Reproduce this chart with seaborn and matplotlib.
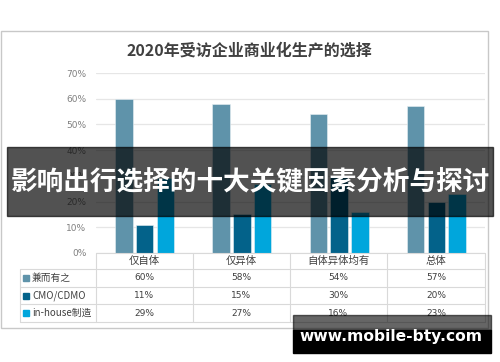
import numpy as np
import pandas as pd
import seaborn as sns
from matplotlib import pyplot as plt
from matplotlib.patches import Rectangle

categories = ["仅自体", "仅异体", "自体异体均有", "总体"]
series = ["兼而有之", "CMO/CDMO", "in-house制造"]
values_both = [60, 58, 54, 57]
values_cmo = [11, 15, 30, 20]
values_inhouse = [29, 27, 16, 23]
colors = ["#5f93aa", "#03628a", "#00a6dc"]
yticks = [0, 10, 20, 30, 40, 50, 60, 70]

sns.set_theme(style="white")
plt.rcParams["font.family"] = ["Noto Sans CJK SC", "DejaVu Sans"]

df = pd.DataFrame({
    "category": categories * 3,
    "series": [s for s in series for _ in categories],
    "value": values_both + values_cmo + values_inhouse,
})

fig = plt.figure(figsize=(5, 3.62), dpi=100)
W, H = 500, 362


def fx(px):
    return px / W


def fy(py):
    return 1 - py / H


# outer chart border
fig.patches.append(Rectangle((fx(1), fy(328)), fx(487), 297 / H, transform=fig.transFigure,
                             fill=False, edgecolor="#c8c8c8", linewidth=1.0, zorder=0))

ax = fig.add_axes([fx(96), fy(253), fx(389), (253 - 73) / H])
sns.barplot(data=df, x="category", y="value", hue="series", palette=colors,
            saturation=1, width=0.64, gap=0.16, ax=ax, legend=False, zorder=3,
            edgecolor="#e8f0f4", linewidth=0.4)
ax.set_xlim(-0.5, 3.5)
ax.set_ylim(0, 70)
ax.set_yticks(yticks)
ax.set_yticklabels([f"{t}%" for t in yticks], color="#808080", fontsize=6.5,
                   family=["DejaVu Sans"])
ax.tick_params(axis="y", length=0, pad=7)
ax.set_xticks([])
ax.set_xlabel("")
ax.set_ylabel("")
ax.grid(axis="y", color="#e6e6e6", linewidth=0.9, zorder=0)
for s in ax.spines.values():
    s.set_visible(False)

fig.text(fx(249), fy(51), "2020年受访企业商业化生产的选择", ha="center", va="center",
         fontsize=11.5, fontweight="bold", color="#404040")

# data table under the chart
line_c = "#d9d9d9"
row_edges = [253, 269, 287, 304, 322]
col_edges = [96, 193, 290, 387, 485]
tc = "#404040"
for y in row_edges:
    x0 = 96 if y == 253 else 20
    fig.add_artist(plt.Line2D([fx(x0), fx(485)], [fy(y), fy(y)], color=line_c, lw=0.8))
for x in col_edges:
    fig.add_artist(plt.Line2D([fx(x), fx(x)], [fy(253), fy(322)], color=line_c, lw=0.8))
fig.add_artist(plt.Line2D([fx(20), fx(20)], [fy(269), fy(322)], color=line_c, lw=0.8))

for i, cat in enumerate(categories):
    cx = (col_edges[i] + col_edges[i + 1]) / 2
    fig.text(fx(cx), fy(261), cat, ha="center", va="center", fontsize=7.5, color=tc)

rows = [values_both, values_cmo, values_inhouse]
for r, (name, vals, c) in enumerate(zip(series, rows, colors)):
    cy = (row_edges[r + 1] + row_edges[r + 2]) / 2
    fig.patches.append(Rectangle((fx(23), fy(cy + 3)), fx(6), 6 / H,
                                 transform=fig.transFigure, color=c))
    fig.text(fx(32), fy(cy), name, ha="left", va="center", fontsize=7, color=tc)
    for i, v in enumerate(vals):
        cx = (col_edges[i] + col_edges[i + 1]) / 2
        fig.text(fx(cx), fy(cy), f"{v}%", ha="center", va="center", fontsize=6.5,
                 color=tc, family=["DejaVu Sans"])

# overlay banner
fig.patches.append(Rectangle((fx(7), fy(216)), fx(486), 69 / H, transform=fig.transFigure,
                             color="black", alpha=0.68, zorder=10))
fig.text(fx(250), fy(182), "影响出行选择的十大关键因素分析与探讨", ha="center", va="center",
         fontsize=19.2, fontweight="bold", color="white", zorder=11)

# website box
fig.patches.append(Rectangle((fx(293), fy(330)), fx(198), 15 / H, transform=fig.transFigure,
                             color="black", alpha=0.6, zorder=10))
fig.patches.append(Rectangle((fx(293), fy(353)), fx(198), 23 / H, transform=fig.transFigure,
                             color="black", zorder=10))
fig.text(fx(391), fy(337), "www.mobile-bty.com", ha="center", va="center", fontsize=11.2,
         fontweight="bold", color="white", family=["DejaVu Sans"], zorder=11)

fig.savefig("out.png", dpi=100)
